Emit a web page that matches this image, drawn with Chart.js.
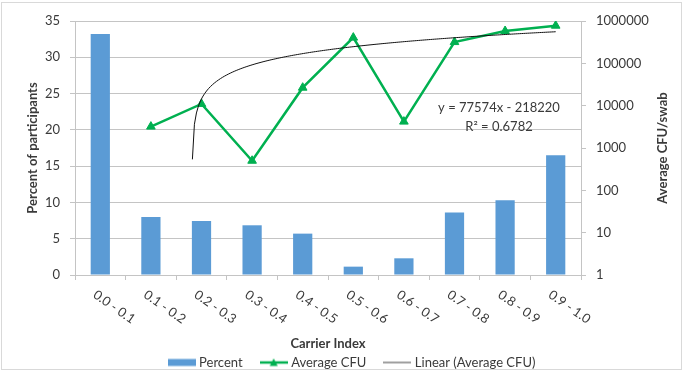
<!DOCTYPE html>
<html>
<head>
<meta charset="utf-8">
<script src="https://cdn.jsdelivr.net/npm/chart.js@4/dist/chart.umd.min.js"></script>
<style>
    html, body { margin: 0; padding: 0; background: #fff; }
    #wrap { width: 684px; height: 373px; }
</style>
</head>
<body>
<div id="wrap"><canvas id="carrierChart" width="684" height="373"></canvas></div>
<script>
(function() {
    'use strict';

    // Data
    const categories = ['0.0 - 0.1', '0.1 - 0.2', '0.2 - 0.3', '0.3 - 0.4', '0.4 - 0.5',
                        '0.5 - 0.6', '0.6 - 0.7', '0.7 - 0.8', '0.8 - 0.9', '0.9 - 1.0'];
    const percentValues = [33.2, 8.0, 7.45, 6.85, 5.7, 1.15, 2.3, 8.6, 10.3, 16.5];
    const cfuValues = [null, 3200, 11000, 500, 26600, 405000, 4200, 318000, 580000, 775000];
    const percentTicks = [0, 5, 10, 15, 20, 25, 30, 35];
    const cfuTicks = [1, 10, 100, 1000, 10000, 100000, 1000000];

    // Excel trendline, as printed on the chart (x = 1-based category number)
    const trendSlope = 77574;
    const trendIntercept = -218220;
    const trendR2 = 0.6782;
    const trendFrom = 2.82;   // first sample that lands above zero on the log axis
    const trendTo = 10;

    const BLUE = '#5b9bd5';
    const GREEN = '#00b050';
    const GRID = '#c4c4c4';
    const TEXT = '#3a3a3a';
    const FONT = 'Lato';

    const trendPoints = [];
    const steps = 180;
    for (let i = 0; i <= steps; i++) {
        const x = trendFrom + (trendTo - trendFrom) * i / steps;
        trendPoints.push({ x: x, y: trendSlope * x + trendIntercept });
    }

    function legendIcon(draw) {
        const c = document.createElement('canvas');
        c.width = 28;
        c.height = 10;
        draw(c.getContext('2d'));
        return c;
    }
    const iconPercent = legendIcon(g => { g.fillStyle = BLUE; g.fillRect(0, 1.5, 28, 7); });
    const iconCfu = legendIcon(g => {
        g.strokeStyle = GREEN; g.lineWidth = 2.5;
        g.beginPath(); g.moveTo(0, 5); g.lineTo(28, 5); g.stroke();
        g.fillStyle = GREEN;
        g.beginPath(); g.moveTo(14, 1); g.lineTo(18, 8.5); g.lineTo(10, 8.5); g.closePath(); g.fill();
    });
    const iconTrend = legendIcon(g => {
        g.strokeStyle = '#808080'; g.lineWidth = 1.5;
        g.beginPath(); g.moveTo(0, 5); g.lineTo(28, 5); g.stroke();
    });
    const legendIcons = [iconPercent, iconCfu, iconTrend];

    const extrasPlugin = {
        id: 'extras',
        afterDraw(chart) {
            const ctx = chart.ctx;
            const xs = chart.scales.x;
            const yr = chart.scales.yCfu;
            const area = chart.chartArea;
            ctx.save();
            ctx.fillStyle = TEXT;

            // rotated category labels
            ctx.font = '13px ' + FONT;
            ctx.textAlign = 'left';
            ctx.textBaseline = 'top';
            categories.forEach((label, i) => {
                const px = xs.getPixelForTick(i);
                ctx.save();
                ctx.translate(px - 2, xs.top + 13);
                ctx.rotate(35 * Math.PI / 180);
                ctx.fillText(label, 0, 0);
                ctx.restore();
            });

            // right axis title, reading bottom to top
            ctx.save();
            ctx.font = 'bold 13px ' + FONT;
            ctx.textAlign = 'center';
            ctx.textBaseline = 'middle';
            ctx.translate(yr.left + 82, (area.top + area.bottom) / 2);
            ctx.rotate(-Math.PI / 2);
            ctx.fillText('Average CFU/swab', 0, 0);
            ctx.restore();

            // trendline equation
            ctx.font = '13px ' + FONT;
            ctx.textAlign = 'center';
            ctx.textBaseline = 'middle';
            const sign = trendIntercept < 0 ? ' - ' : ' + ';
            ctx.fillText('y = ' + trendSlope + 'x' + sign + Math.abs(trendIntercept), area.right - 82, area.top + 87);
            ctx.fillText('R\u00b2 = ' + trendR2, area.right - 82, area.top + 106);

            // chart border
            ctx.strokeStyle = '#d9d9d9';
            ctx.lineWidth = 1;
            ctx.strokeRect(1.5, 2.5, 680, 367);
            ctx.restore();
        }
    };

    Chart.defaults.font.family = FONT;
    Chart.defaults.font.size = 13;
    Chart.defaults.color = TEXT;

    new Chart(document.getElementById('carrierChart').getContext('2d'), {
        data: {
            labels: categories,
            datasets: [
                {
                    type: 'bar',
                    label: 'Percent',
                    data: percentValues,
                    backgroundColor: BLUE,
                    xAxisID: 'x',
                    yAxisID: 'yPct',
                    grouped: false,
                    barPercentage: 0.38,
                    categoryPercentage: 1.0,
                    order: 2
                },
                {
                    type: 'line',
                    label: 'Average CFU',
                    data: cfuValues,
                    borderColor: GREEN,
                    backgroundColor: GREEN,
                    borderWidth: 2.5,
                    pointStyle: 'triangle',
                    pointRadius: 5,
                    pointBackgroundColor: GREEN,
                    pointBorderColor: GREEN,
                    pointBorderWidth: 1,
                    tension: 0,
                    xAxisID: 'x',
                    yAxisID: 'yCfu',
                    order: 1
                },
                {
                    type: 'line',
                    label: 'Linear (Average CFU)',
                    data: trendPoints,
                    borderColor: '#111',
                    borderWidth: 1,
                    pointRadius: 0,
                    tension: 0,
                    xAxisID: 'xTrend',
                    yAxisID: 'yCfu',
                    order: 0
                }
            ]
        },
        options: {
            responsive: false,
            animation: false,
            layout: { padding: { left: 22, right: 0, top: 21, bottom: -6 } },
            plugins: {
                tooltip: { enabled: false },
                legend: {
                    position: 'bottom',
                    labels: {
                        usePointStyle: true,
                        pointStyleWidth: 22,
                        padding: 20,
                        color: TEXT,
                        font: { size: 13 },
                        sort: (a, b) => a.datasetIndex - b.datasetIndex,
                        generateLabels: chart => {
                            const items = Chart.defaults.plugins.legend.labels.generateLabels(chart);
                            items.forEach(it => { it.pointStyle = legendIcons[it.datasetIndex]; });
                            return items;
                        }
                    }
                }
            },
            scales: {
                x: {
                    type: 'category',
                    position: 'bottom',
                    offset: true,
                    grid: { offset: true, drawOnChartArea: false, tickLength: 5, color: GRID },
                    border: { display: true, color: GRID },
                    ticks: { display: false },
                    title: {
                        display: true,
                        text: 'Carrier Index',
                        color: TEXT,
                        font: { size: 13, weight: 'bold' },
                        padding: { top: 0, bottom: -16 }
                    },
                    afterFit: s => { s.height = 61; }
                },
                xTrend: {
                    type: 'linear',
                    display: false,
                    min: 0.5,
                    max: 10.5
                },
                yPct: {
                    position: 'left',
                    min: 0,
                    max: 35,
                    afterBuildTicks: s => { s.ticks = percentTicks.map(v => ({ value: v })); },
                    ticks: { padding: 10, color: TEXT },
                    grid: { color: GRID, tickLength: 5 },
                    border: { display: true, color: GRID },
                    title: {
                        display: true,
                        text: 'Percent of participants',
                        color: TEXT,
                        font: { size: 13, weight: 'bold' },
                        padding: { top: 3, bottom: 0 }
                    },
                    afterFit: s => { s.width = 53; }
                },
                yCfu: {
                    type: 'logarithmic',
                    position: 'right',
                    min: 1,
                    max: 1000000,
                    afterBuildTicks: s => { s.ticks = cfuTicks.map(v => ({ value: v })); },
                    ticks: { padding: 10, color: TEXT, callback: v => String(v) },
                    grid: { drawOnChartArea: false, tickLength: 5, color: GRID },
                    border: { display: true, color: GRID },
                    afterFit: s => { s.width = 103; }
                }
            }
        },
        plugins: [extrasPlugin]
    });
})();
</script>
</body>
</html>
